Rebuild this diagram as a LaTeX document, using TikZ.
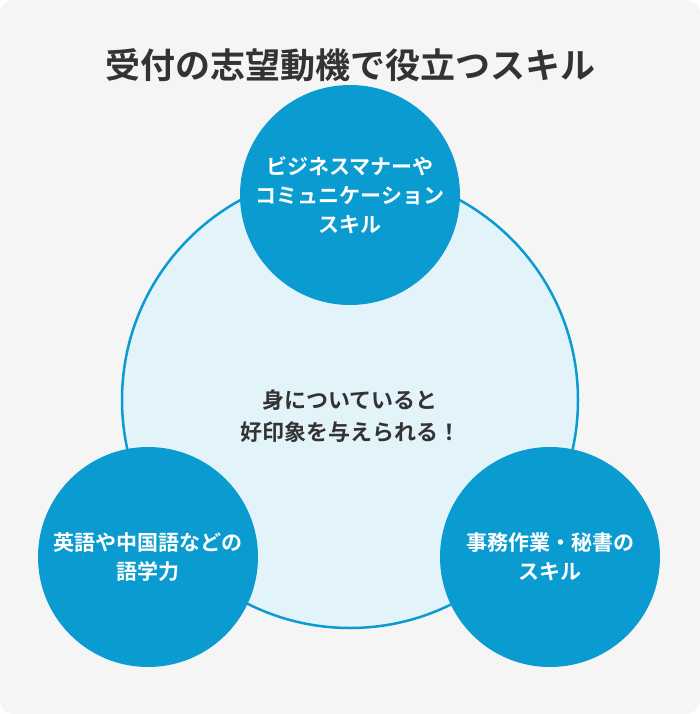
\documentclass[tikz,border=0pt]{standalone}
\usepackage{fontspec}
\newfontfamily\cjk{Noto Sans CJK JP}[BoldFont={Noto Sans CJK JP Bold}]
\definecolor{bg}{HTML}{F5F5F5}
\definecolor{mainblue}{HTML}{0A9BD0}
\definecolor{paleblue}{HTML}{E3F3FA}
\definecolor{ink}{HTML}{333333}
\tikzset{x=1pt,y=-1pt,
  small/.style={circle,fill=mainblue,minimum size=220pt,inner sep=0pt,text=white,font=\cjk\bfseries\fontsize{21}{29}\selectfont,align=center},
}
\begin{document}
\begin{tikzpicture}
\fill[bg,rounded corners=14pt] (0,0) rectangle (700,714);
\useasboundingbox (0,0) rectangle (700,714);
\node (title) at (350,65) {\cjk\bfseries\fontsize{35}{40}\selectfont\color{ink}受付の志望動機で役立つスキル};
\node[circle,draw=mainblue,line width=2.5pt,fill=paleblue,minimum size=456pt,inner sep=0pt] (big) at (350,400) {};
\node[font=\cjk\bfseries\fontsize{22}{32}\selectfont,text=ink,align=center] (center) at (350,416) {身についていると\\好印象を与えられる！};
\node[small] (top) at (350,195) {ビジネスマナーや\\コミュニケーション\\スキル};
\node[small] (left) at (148,557) {英語や中国語などの\\語学力};
\node[small] (right) at (550,557) {事務作業・秘書の\\スキル};
\end{tikzpicture}
\end{document}
